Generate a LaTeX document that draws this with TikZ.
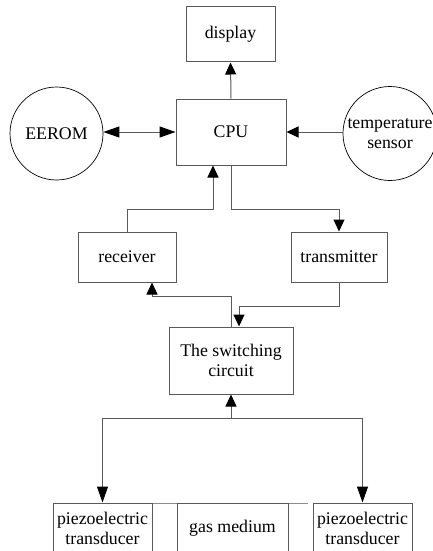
\documentclass[tikz,border=0pt]{standalone}
\usepackage{fontspec}
\setmainfont{Liberation Serif}
\usetikzlibrary{arrows.meta,calc}
\begin{document}
\begin{tikzpicture}[x=1pt,y=-1pt,
  every node/.style={font=\fontsize{17.8}{20}\selectfont, align=center, inner sep=0pt},
  box/.style={draw=black!65, line width=1pt, rectangle},
  circ/.style={draw=black, line width=0.7pt, circle},
  conn/.style={draw=black!65, line width=1pt},
  arr/.style={conn, -{Triangle[length=12pt,width=11pt,color=black]}},
  larr/.style={conn, -{Triangle[length=16pt,width=11pt,color=black]}},
  darr/.style={conn, {Triangle[length=16pt,width=11pt,color=black]}-{Triangle[length=16pt,width=11pt,color=black]}}]
\useasboundingbox (0,0) rectangle (433,551);
\clip (0,0) rectangle (433,551);
\fill[white] (0,0) rectangle (433,551);
\node[box, minimum width=89pt, minimum height=55pt] (display) at (230.5,34.5) {display};
\node[box, minimum width=110pt, minimum height=66pt] (cpu) at (231,132) {CPU};
\node[circ, minimum size=93pt] (eerom) at (56.5,133.5) {EEROM};
\node[circ, minimum size=94pt] (temp) at (390,133.5) {temperature\\sensor};
\node[box, minimum width=98pt, minimum height=50pt] (recv) at (127,257) {receiver};
\node[box, minimum width=96pt, minimum height=50pt] (trans) at (339,257) {transmitter};
\node[box, minimum width=124pt, minimum height=67pt] (sw) at (231,360.5) {The switching\\circuit};
\draw[black!45, line width=0.6pt] (152,503) -- (308,503);
\node[box, minimum width=99pt, minimum height=50pt] (lt) at (102.5,528) {piezoelectric\\transducer};
\node[box, minimum width=111pt, minimum height=50pt] (gas) at (232.5,528) {gas medium};
\node[box, minimum width=99pt, minimum height=50pt] (rt) at (362.5,528) {piezoelectric\\transducer};
\coordinate (r1) at (213,209);
\coordinate (t1) at (231,209);
\coordinate (s1) at (152,296);
\coordinate (s2) at (239,306);
\coordinate (b1) at (231,418);
\draw[arr] (cpu.north) -- (display.south);
\draw[darr] (eerom.east |- cpu.west) -- (cpu.west);
\draw[arr] (temp.west |- cpu.east) -- (cpu.east);
\draw[arr] (recv.north) |- (r1) -- (r1 |- cpu.south);
\draw[arr] (t1 |- cpu.south) -- (t1) -| (trans.north);
\draw[arr] (sw.north) |- (s1) -- (s1 |- recv.south);
\draw[arr] (trans.south) |- (s2) -- (s2 |- sw.north);
\draw[arr] (b1) -- (sw.south);
\draw[larr] (b1) -| (lt.north);
\draw[larr] (b1) -| (rt.north);
\end{tikzpicture}
\end{document}
